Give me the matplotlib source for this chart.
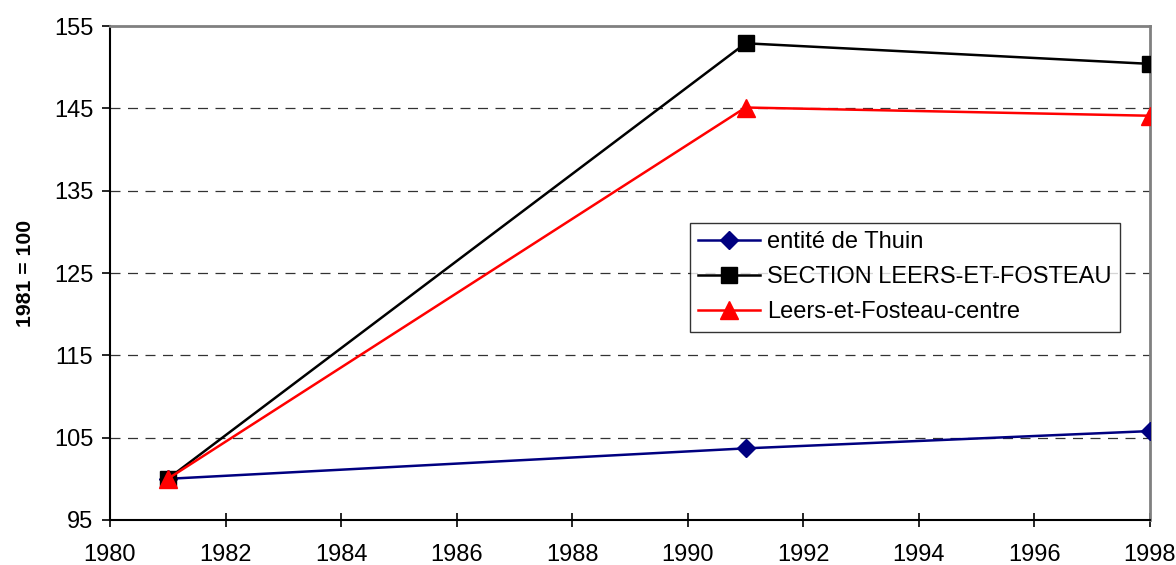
import matplotlib
matplotlib.use("Agg")
import matplotlib.pyplot as plt

years = [1981, 1991, 1998]
thuin = [100.0, 103.7, 105.8]
section = [100.0, 152.9, 150.4]
centre = [100.0, 145.1, 144.1]
labels = ["entité de Thuin", "SECTION LEERS-ET-FOSTEAU", "Leers-et-Fosteau-centre"]
yticks = [95, 105, 115, 125, 135, 145, 155]
xticks = list(range(1980, 1999, 2))

plt.rcParams['font.family'] = ['Liberation Sans', 'DejaVu Sans']

fig = plt.figure(figsize=(11.76, 5.65), dpi=100)
ax = fig.add_axes([110/1176, 45/565, 1040/1176, 494/565])

ax.plot(years, thuin, color="#000080", lw=1.8, marker="D", ms=9.5, label=labels[0], zorder=3)
ax.plot(years, section, color="black", lw=1.8, marker="s", ms=12, label=labels[1], zorder=3)
ax.plot(years, centre, color="red", lw=1.8, marker="^", ms=13, label=labels[2], zorder=4)

ax.set_xlim(1980, 1998)
ax.set_ylim(95, 155)
ax.set_xticks(xticks)
ax.set_yticks(yticks)
ax.tick_params(axis='y', labelsize=17, direction='out', length=5.5, width=1.2, pad=6.5)
ax.tick_params(axis='x', labelsize=17, direction='inout', length=10, width=1.2, pad=12)
for y in yticks[1:-1]:
    ax.axhline(y, color="#333333", lw=0.9, ls=(0, (8, 6)), zorder=1)

ax.spines['left'].set_color('black')
ax.spines['bottom'].set_color('black')
ax.spines['left'].set_linewidth(1.5)
ax.spines['bottom'].set_linewidth(1.5)
ax.spines['top'].set_color('#808080')
ax.spines['right'].set_color('#808080')
ax.spines['top'].set_linewidth(2)
ax.spines['right'].set_linewidth(2)

ax.set_ylabel("1981 = 100", fontsize=15.3, fontweight='bold', labelpad=14)

leg = ax.legend(loc='upper left', bbox_to_anchor=(580/1040, (520-223)/494),
                fontsize=17, frameon=True, fancybox=False, handlelength=2.6,
                borderpad=0.35, labelspacing=0.55, handletextpad=0.3, borderaxespad=0)
leg.get_frame().set_edgecolor('black')
leg.get_frame().set_linewidth(1)

fig.savefig("out.png", dpi=100)
